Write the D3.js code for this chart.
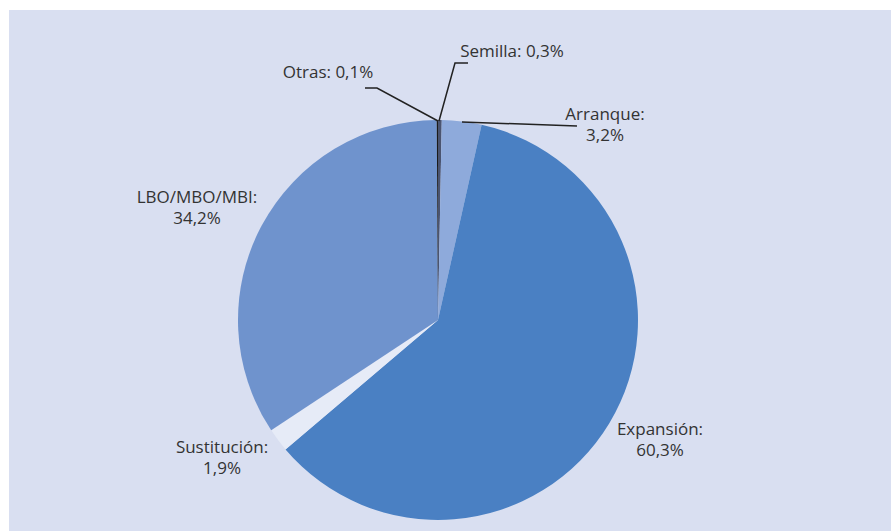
<!DOCTYPE html>
<html><head><meta charset="utf-8">
<script src="https://cdn.jsdelivr.net/npm/d3@7"></script>
<style>body{margin:0;background:#fff;} text{font-family:"Open Sans",sans-serif;}</style>
</head><body>
<svg id="c" width="891" height="531"></svg>
<script>
const categories = ["Semilla", "Arranque", "Expansión", "Sustitución", "LBO/MBO/MBI", "Otras"];
const values = [0.3, 3.2, 60.3, 1.9, 34.2, 0.1];
const valueLabels = ["0,3%", "3,2%", "60,3%", "1,9%", "34,2%", "0,1%"];
const colors = ["#4a5470", "#8eaadb", "#4a80c3", "#e6ebf7", "#6f93cd", "#1a1a1a"];

const svg = d3.select("#c");
svg.append("rect").attr("x", 9).attr("y", 10).attr("width", 882).attr("height", 521).attr("fill", "#d9dff1");

const cx = 438, cy = 320, r = 200;
const g = svg.append("g").attr("transform", `translate(${cx},${cy})`);
const pie = d3.pie().sort(null).value(d => d)(values);
const arc = d3.arc().innerRadius(0).outerRadius(r);
g.selectAll("path").data(pie).join("path").attr("d", arc).attr("fill", (d, i) => colors[i]);

// leader lines
const lines = [
  [[439, 121], [455, 63], [468, 63]],
  [[462, 122], [577, 126]],
  [[438, 121], [377, 88], [365, 88]]
];
svg.selectAll("path.leader").data(lines).join("path").attr("class", "leader")
  .attr("d", d3.line()).attr("fill", "none").attr("stroke", "#222").attr("stroke-width", 1.5);

const fs = 17;
function label(lines, x, y) {
  lines.forEach((l, i) => svg.append("text").attr("x", x).attr("y", y + i * 21)
    .attr("text-anchor", "middle").attr("font-size", fs).attr("fill", "#333").text(l));
}
label([categories[0] + ": " + valueLabels[0]], 512, 57);
label([categories[1] + ":", valueLabels[1]], 605, 120);
label([categories[2] + ":", valueLabels[2]], 660, 435);
label([categories[3] + ":", valueLabels[3]], 222, 453);
label([categories[4] + ":", valueLabels[4]], 197, 203);
label([categories[5] + ": " + valueLabels[5]], 328, 78);
</script>
</body></html>
